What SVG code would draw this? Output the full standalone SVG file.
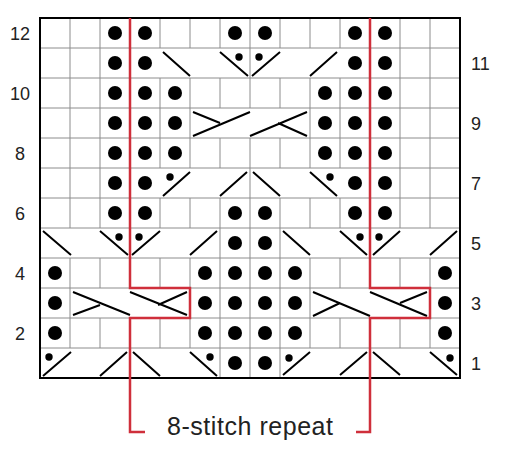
<svg xmlns="http://www.w3.org/2000/svg" width="507" height="450" viewBox="0 0 507 450">
<style>
.grid{stroke:#8c8c8c;stroke-width:1;fill:none}
.border{stroke:#000;stroke-width:2;fill:none}
.cab{stroke:#000;stroke-width:2;fill:none;stroke-linecap:butt}
.dot{fill:#000}
.red{stroke:#cf2f3b;stroke-width:2.5;fill:none;stroke-linejoin:miter}
.num{font-family:"Liberation Sans",Arial,sans-serif;font-size:18px;fill:#222}
.cap{font-family:"Liberation Sans",Arial,sans-serif;font-size:25px;fill:#222}
</style>
<rect width="507" height="450" fill="#fff"/>
<g id="grid">
<path class="grid" d="M40 48H460M40 78H460M40 108H460M40 138H460M40 168H460M40 198H460M40 228H460M40 258H460M40 288H460M40 318H460M40 348H460"/>
<path class="grid" d="M70 18V228M70 258V348
M100 18V228M100 258V288M100 318V348
M130 18V288M130 318V378
M160 18V48M160 78V168M160 198V228M160 258V288M160 318V348
M190 18V48M190 78V168M190 198V228M190 258V348
M220 18V48M220 78V108M220 138V168M220 198V378
M250 18V108M250 138V378
M280 18V48M280 78V108M280 138V168M280 198V378
M310 18V48M310 78V168M310 198V228M310 258V348
M340 18V48M340 78V168M340 198V228M340 258V288M340 318V348
M370 18V288M370 318V378
M400 18V228M400 258V288M400 318V348
M430 18V228M430 258V348"/>
</g>
<g id="cables">
<path class="cab" d="M163 52L190 76M220 52L248 76M252 76L280 52M310 76L337 52"/>
<path class="cab" d="M193 136L250 112M193 112L220 123M250 136L307 112M307 136L278 123"/>
<path class="cab" d="M163 196L190 172M220 196L247 172M253 172L280 196M310 172L337 196"/>
<path class="cab" d="M43 231L71 255M100 231L128 255M132 255L160 231M190 255L217 231M283 231L310 255M340 231L367 255M373 255L400 231M430 255L457 231"/>
<path class="cab" d="M73 292L130 315M73 315L100 305M130 292L187 315M158 305L187 292M313 292L370 316M313 316L340 303M370 292L427 316M400 303L427 292"/>
<path class="cab" d="M43 376L71 352M100 376L127 352M133 352L160 376M190 352L217 376M283 375L310 352M340 375L367 352M373 352L400 375M430 352L457 375"/>
</g>
<g id="purls" class="dot">
<circle cx="115" cy="33" r="7"/><circle cx="145" cy="33" r="7"/><circle cx="235" cy="33" r="7"/><circle cx="265" cy="33" r="7"/><circle cx="355" cy="33" r="7"/><circle cx="385" cy="33" r="7"/>
<circle cx="115" cy="63" r="7"/><circle cx="145" cy="63" r="7"/><circle cx="355" cy="63" r="7"/><circle cx="385" cy="63" r="7"/>
<circle cx="115" cy="93" r="7"/><circle cx="145" cy="93" r="7"/><circle cx="175" cy="93" r="7"/><circle cx="325" cy="93" r="7"/><circle cx="355" cy="93" r="7"/><circle cx="385" cy="93" r="7"/>
<circle cx="115" cy="123" r="7"/><circle cx="145" cy="123" r="7"/><circle cx="175" cy="123" r="7"/><circle cx="325" cy="123" r="7"/><circle cx="355" cy="123" r="7"/><circle cx="385" cy="123" r="7"/>
<circle cx="115" cy="153" r="7"/><circle cx="145" cy="153" r="7"/><circle cx="175" cy="153" r="7"/><circle cx="325" cy="153" r="7"/><circle cx="355" cy="153" r="7"/><circle cx="385" cy="153" r="7"/>
<circle cx="115" cy="183" r="7"/><circle cx="145" cy="183" r="7"/><circle cx="355" cy="183" r="7"/><circle cx="385" cy="183" r="7"/>
<circle cx="115" cy="213" r="7"/><circle cx="145" cy="213" r="7"/><circle cx="235" cy="213" r="7"/><circle cx="265" cy="213" r="7"/><circle cx="355" cy="213" r="7"/><circle cx="385" cy="213" r="7"/>
<circle cx="235" cy="243" r="7"/><circle cx="265" cy="243" r="7"/>
<circle cx="55" cy="273" r="7"/><circle cx="205" cy="273" r="7"/><circle cx="235" cy="273" r="7"/><circle cx="265" cy="273" r="7"/><circle cx="295" cy="273" r="7"/><circle cx="445" cy="273" r="7"/>
<circle cx="55" cy="303" r="7"/><circle cx="205" cy="303" r="7"/><circle cx="235" cy="303" r="7"/><circle cx="265" cy="303" r="7"/><circle cx="295" cy="303" r="7"/><circle cx="445" cy="303" r="7"/>
<circle cx="55" cy="333" r="7"/><circle cx="205" cy="333" r="7"/><circle cx="235" cy="333" r="7"/><circle cx="265" cy="333" r="7"/><circle cx="295" cy="333" r="7"/><circle cx="445" cy="333" r="7"/>
<circle cx="235" cy="363" r="7"/><circle cx="265" cy="363" r="7"/>
<circle cx="239" cy="57" r="3.7"/><circle cx="259" cy="57" r="3.7"/>
<circle cx="170" cy="177" r="3.7"/><circle cx="330" cy="177" r="3.7"/>
<circle cx="119" cy="237" r="3.7"/><circle cx="139" cy="237" r="3.7"/><circle cx="360" cy="237" r="3.7"/><circle cx="379" cy="237" r="3.7"/>
<circle cx="49" cy="357" r="3.7"/><circle cx="210" cy="357" r="3.7"/><circle cx="289" cy="358" r="3.7"/><circle cx="450" cy="358" r="3.7"/>
</g>
<rect class="border" x="40" y="18" width="420" height="360"/>
<g id="repeat">
<path class="red" d="M130 18V288H190V318H130V432H145"/>
<path class="red" d="M370 18V288H430V318H370V432H356"/>
</g>
<g id="labels">
<text class="num" x="20" y="39.5" text-anchor="middle">12</text>
<text class="num" x="20" y="99.5" text-anchor="middle">10</text>
<text class="num" x="20" y="159.5" text-anchor="middle">8</text>
<text class="num" x="20" y="219.5" text-anchor="middle">6</text>
<text class="num" x="20" y="279.5" text-anchor="middle">4</text>
<text class="num" x="20" y="339.5" text-anchor="middle">2</text>
<text class="num" x="471" y="69.5">11</text>
<text class="num" x="471" y="129.5">9</text>
<text class="num" x="471" y="189.5">7</text>
<text class="num" x="471" y="249.5">5</text>
<text class="num" x="471" y="309.5">3</text>
<text class="num" x="471" y="369.5">1</text>
<text class="cap" x="250" y="435" text-anchor="middle" textLength="166">8-stitch repeat</text>
</g>
</svg>
